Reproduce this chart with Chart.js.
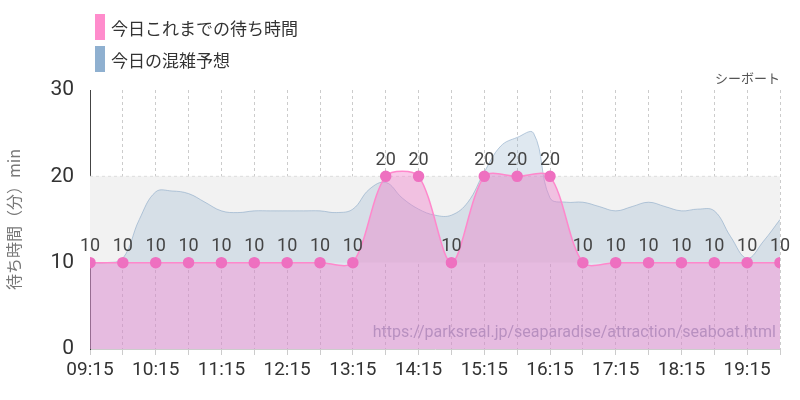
<!DOCTYPE html>
<html><head><meta charset="utf-8">
<script src="https://cdn.jsdelivr.net/npm/chart.js@4"></script>
<style>
body{margin:0;width:800px;height:400px;position:relative;font-family:"Noto Sans CJK JP",sans-serif;background:#fff}
#c{position:absolute;left:0;top:0}
.lg{position:absolute;left:95px;font-size:17px;color:#333;display:flex;align-items:center}
.lg span{display:inline-block;width:10px;height:26px;margin-right:6px}
#t{position:absolute;right:20px;top:68px;font-size:13px;color:#555}
#u{position:absolute;right:24px;top:322px;font-size:16px;color:#b890c0;font-family:Roboto}
</style></head><body>
<canvas id="c" width="800" height="400"></canvas>
<div class="lg" style="top:14px"><span style="background:#ff8ccc"></span>今日これまでの待ち時間</div>
<div class="lg" style="top:46px"><span style="background:#8fb0d0"></span>今日の混雑予想</div>
<div id="t">シーボート</div>
<div id="u">https://parksreal.jp/seaparadise/attraction/seaboat.html</div>
<script>
const startMin = 9*60+15;
const waitMinutes = [0,30,60,90,120,150,180,210,240,270,300,330,360,390,420,450,480,510,540,570,600,630];
const waitValues = [10,10,10,10,10,10,10,10,10,20,20,10,20,20,20,10,10,10,10,10,10,10];
const forecastMinutes = [0,15,30,45,60,75,90,105,120,135,150,165,180,195,210,225,240,255,270,285,300,315,330,345,360,375,390,405,420,435,450,465,480,495,510,525,540,555,570,585,600,615,630];
const forecastValues = [10,10,10.5,15,18.2,18.3,18,17,16,15.8,16,16,16,16,16,15.8,16.2,18.5,19.3,17.5,16.2,15.5,15.5,17,20.5,23.5,24.5,25,17.5,17,17,16.5,16,16.5,17,16.5,16,16.2,16,13,10.5,12.5,15];
const yTicks = [0,10,20,30];
const fmt = m => { const t=startMin+m; return String(Math.floor(t/60)).padStart(2,'0')+':'+String(t%60).padStart(2,'0'); };

const band = {id:'band',beforeDatasetsDraw(ch){const {ctx,chartArea:a,scales:{y}}=ch;ctx.save();ctx.fillStyle='#f2f2f2';ctx.fillRect(a.left,y.getPixelForValue(20),a.right-a.left,y.getPixelForValue(10)-y.getPixelForValue(20));ctx.strokeStyle='#ddd';ctx.setLineDash([3,3]);ctx.beginPath();ctx.moveTo(a.left,y.getPixelForValue(20));ctx.lineTo(a.right,y.getPixelForValue(20));ctx.stroke();ctx.restore();}};
const labels = {id:'labels',afterDatasetsDraw(ch){const {ctx}=ch;const meta=ch.getDatasetMeta(0);ctx.save();ctx.font='18px Roboto';ctx.fillStyle='#444';ctx.textAlign='center';ctx.textBaseline='bottom';meta.data.forEach((p,i)=>ctx.fillText(String(waitValues[i]),p.x,p.y-7));ctx.restore();}};

new Chart(document.getElementById('c'),{
 type:'line',
 data:{datasets:[
  {data:waitMinutes.map((m,i)=>({x:m,y:waitValues[i]})),borderColor:'#ff88cc',backgroundColor:'rgba(240,120,200,0.4)',fill:'origin',tension:0.3,pointRadius:5,pointBackgroundColor:'#ee70c0',pointBorderColor:'#ee70c0',borderWidth:1.5,order:1},
  {data:forecastMinutes.map((m,i)=>({x:m,y:forecastValues[i]})),borderColor:'rgba(140,170,200,0.6)',backgroundColor:'rgba(150,180,205,0.3)',fill:'origin',tension:0.4,pointRadius:0,borderWidth:1,order:2}
 ]},
 options:{responsive:false,animation:false,
  layout:{padding:{top:90,right:20,left:0,bottom:0}},
  plugins:{legend:{display:false},tooltip:{enabled:false}},
  scales:{
   x:{type:'linear',min:0,max:630,afterBuildTicks(s){s.ticks=[];for(let m=0;m<=630;m+=30)s.ticks.push({value:m});},
      afterFit(s){s.height=51;},
      grid:{color:'#ccc',drawTicks:true,tickLength:6},border:{display:true,color:'#ccc',dash:[3,3]},
      ticks:{autoSkip:false,maxRotation:0,padding:4,color:'#333',font:{family:'Roboto',size:19},callback:v=>v%60===0?fmt(v):''}},
   y:{min:0,max:30,afterBuildTicks(s){s.ticks=yTicks.map(v=>({value:v}));},afterFit(s){s.width=90;},
      grid:{display:false},border:{color:'#444'},
      ticks:{color:'#333',font:{family:'Roboto',size:21},padding:8},
      title:{display:true,text:'待ち時間（分）min',color:'#777',font:{size:16,family:'"Noto Sans CJK JP"'}}}
  }},
 plugins:[band,labels]
});
</script></body></html>
